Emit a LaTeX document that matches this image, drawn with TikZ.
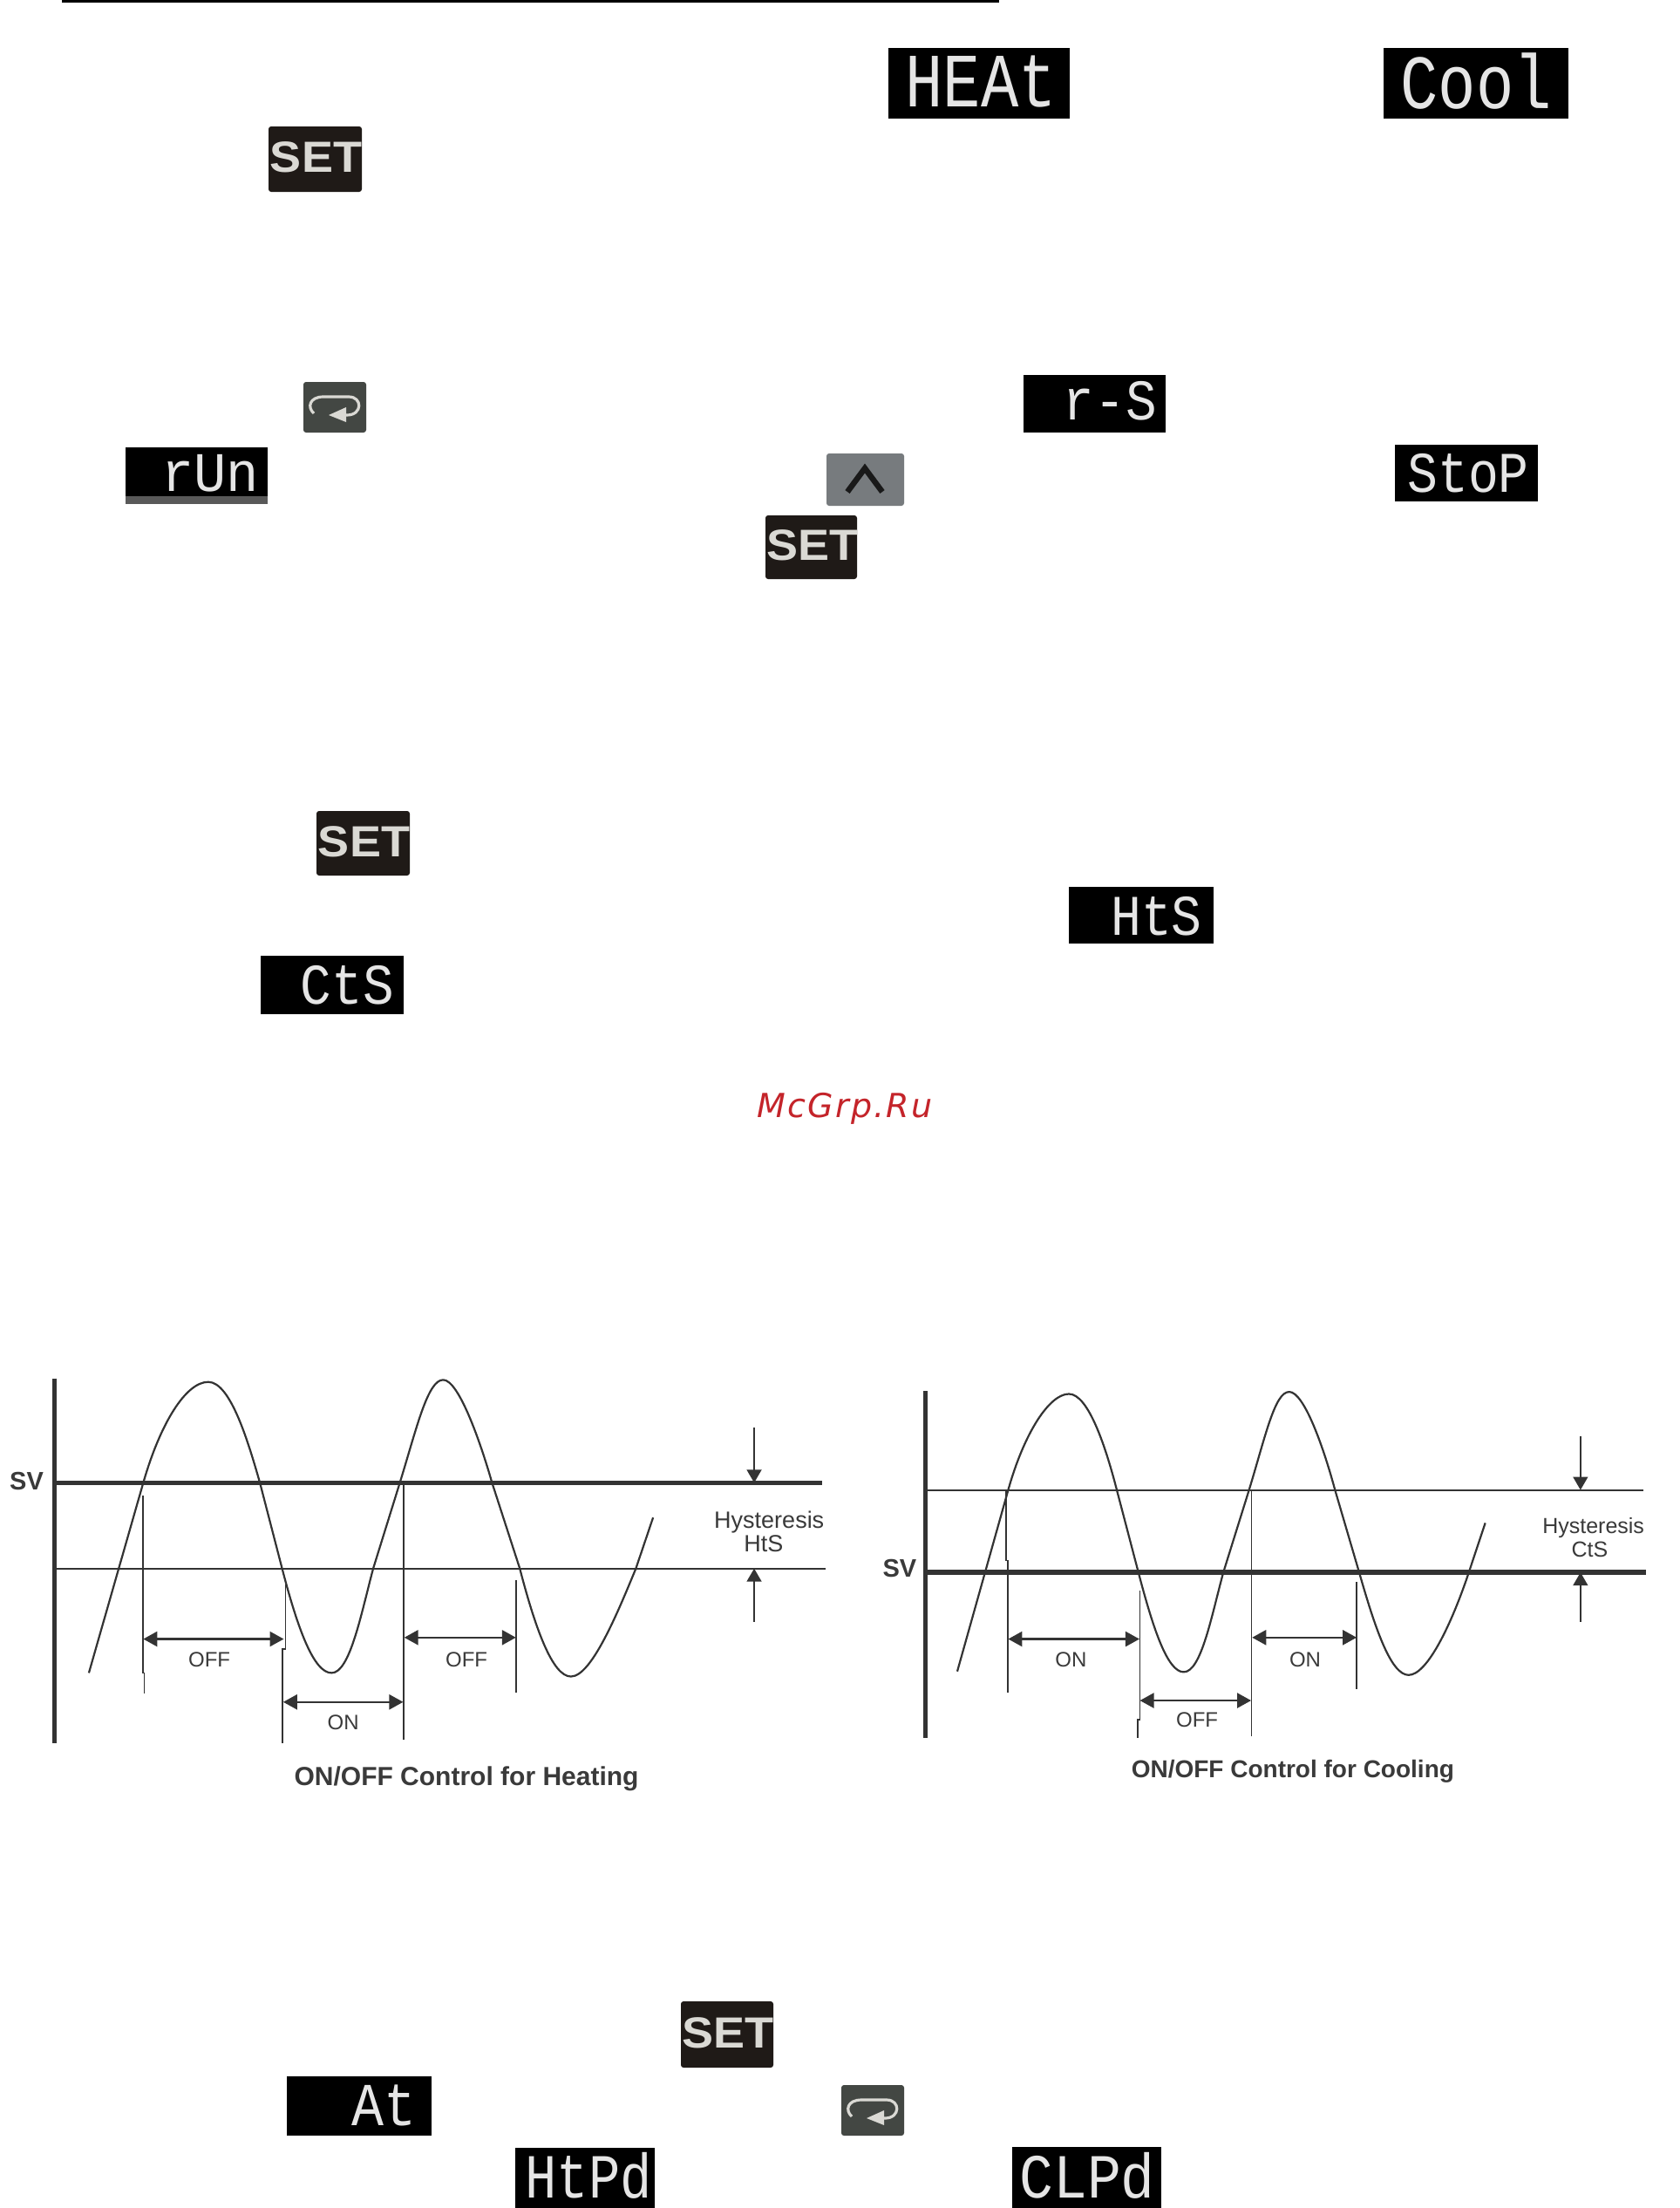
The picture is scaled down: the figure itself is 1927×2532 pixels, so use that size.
\documentclass[tikz,border=0pt]{standalone}
\usepackage{fontspec}
\usepackage{graphicx}
\usetikzlibrary{arrows.meta}
\setmainfont{Liberation Sans}
\newfontfamily\ledfont{Liberation Mono}
\newfontfamily\wmfont[LetterSpace=6]{DejaVu Sans}
\definecolor{setfill}{HTML}{1F1A17}
\definecolor{loopfill}{HTML}{434743}
\definecolor{upfill}{HTML}{777B7E}
\definecolor{keyink}{HTML}{DAD9D4}
\definecolor{wavecol}{HTML}{333333}
\definecolor{wmred}{HTML}{C4242A}
\definecolor{labelcol}{HTML}{3A3A3A}
\tikzset{
  key/.style={rounded corners=3pt},
  ledtxt/.style={text=white!90!black,inner sep=0pt,anchor=base east},
  wave/.style={draw=wavecol,line width=2.2pt},
  tick/.style={draw=wavecol,line width=1.6pt},
  span/.style={draw=wavecol,line width=2.4pt,{Triangle[length=16pt,width=17pt]}-{Triangle[length=16pt,width=17pt]}},
  hyst/.style={draw=wavecol,line width=1.6pt,-{Triangle[length=15pt,width=17pt]}},
  axisline/.style={draw=wavecol,line width=5pt},
  svline/.style={draw=wavecol,line width=5.5pt},
  thinline/.style={draw=wavecol,line width=2pt},
  lab/.style={inner sep=0pt,text=labelcol,font=\fontsize{24}{24}\selectfont},
  hlab/.style={inner sep=0pt,text=labelcol,font=\fontsize{25}{25}\selectfont},
  hlabb/.style={inner sep=0pt,text=labelcol,font=\fontsize{27}{27}\selectfont},
  boldlab/.style={inner sep=0pt,text=labelcol,font=\bfseries\fontsize{29}{29}\selectfont},
}
\newcommand\ledpanel[4]{\fill[black] (#1,#2) rectangle (#3,#4);}
% name, right x, baseline y, size, x scale, text
\newcommand\ledtext[6]{\node[ledtxt,font=\ledfont\fontsize{#4}{#4}\selectfont] (#1) at (#2,#3) {\scalebox{#5}[1]{#6}};}
\newcommand\setkey[5]{%
  \fill[setfill,key] (#2,#3) rectangle (#4,#5);
  \node[inner sep=0pt,text=keyink,font=\bfseries\fontsize{50}{50}\selectfont] (#1) at ({(#2+#4)/2+1},{(#3+#5)/2-2}) {\scalebox{1.08}[1]{SET}};}
\newcommand\loopkey[3]{% x0,y0 of a 72x58 key; #3 = name
  \fill[loopfill,key] (#1,#2) rectangle ++(72,58);
  \coordinate (#3) at ({#1+36},{#2+29});
  \draw[keyink,line width=3.2pt] ([shift={(-24,7)}]#3) .. controls ([shift={(-32,0)}]#3) and ([shift={(-29,-12)}]#3) .. ([shift={(-13,-12)}]#3)
     -- ([shift={(16,-12)}]#3) .. controls ([shift={(32,-12)}]#3) and ([shift={(32,9)}]#3) .. ([shift={(14,9)}]#3) -- ([shift={(4,9)}]#3);
  \fill[keyink] ([shift={(-7,9)}]#3) -- ([shift={(13,0)}]#3) -- ([shift={(13,17)}]#3) -- cycle;}
\begin{document}
\begin{tikzpicture}[x=1pt,y=-1pt]
\useasboundingbox (0,0) rectangle (1927,2532);
\fill[white] (0,0) rectangle (1927,2532);
% top rule
\fill[black] (71,0) rectangle (1146,3);

% first group
\ledpanel{1019}{55}{1227}{136}
\ledtext{heat}{1212}{122}{88}{.82}{HEAt}
\ledpanel{1587}{55}{1799}{136}
\ledtext{cool}{1780}{124}{88}{.82}{Cool}
\setkey{setA}{308}{145}{415}{220}

% second group
\loopkey{348}{438}{loopA}
\ledpanel{1174}{430}{1337}{496}
\ledtext{rs}{1327}{481}{66}{.9}{r-S}
\ledpanel{144}{513}{307}{578}
\fill[black!65] (144,569) rectangle (307,578);
\ledtext{run}{297}{563}{64}{.97}{rUn}
\fill[upfill,key] (948,520) rectangle (1037,580);
\coordinate (upc) at (992,550);
\draw[black!90,line width=6.5pt] ([shift={(-20,14)}]upc) -- ([shift={(0,-13)}]upc) -- ([shift={(20,14)}]upc);
\ledpanel{1600}{510}{1764}{575}
\ledtext{stop}{1754}{564}{66}{.88}{StoP}
\setkey{setB}{878}{591}{983}{664}

% third group
\setkey{setC}{363}{930}{470}{1004}
\ledpanel{1226}{1017}{1392}{1082}
\ledtext{hts}{1379}{1072}{66}{.88}{HtS}
\ledpanel{299}{1096}{463}{1163}
\ledtext{cts}{452}{1151}{66}{.9}{CtS}

% watermark
\node[inner sep=0pt,text=wmred,font=\wmfont\itshape\fontsize{38}{38}\selectfont] (wm) at (969,1271) {McGrp.Ru};

% heating chart (coordinates in crop units)
\begin{scope}[shift={(0,1540)},x=0.637pt,y=-0.344pt]
  \draw[axisline] (98,118) -- (98,1335);
  \draw[svline] (100,466) -- (1480,466);
  \draw[thinline] (100,752) -- (1486,752);
  \draw[wave,line join=round] (160,1100) -- (258,466) .. controls (289,266) and (335,130) .. (375,130)
     .. controls (415,130) and (447,330) .. (468,466) -- (508,752)
     .. controls (536,952) and (565,1100) .. (597,1100)
     .. controls (630,1100) and (650,905) .. (672,752) -- (720,466)
     .. controls (750,286) and (770,123) .. (798,123)
     .. controls (826,123) and (865,330) .. (886,466) -- (936,752)
     .. controls (964,952) and (995,1112) .. (1028,1112)
     .. controls (1065,1112) and (1112,900) .. (1145,752) -- (1176,582);
  \draw[tick] (257,510) -- (257,1100) -- (260,1100) -- (260,1170);
  \draw[tick] (514,805) -- (514,1020) -- (509,1020) -- (509,1335);
  \draw[tick] (727,466) -- (727,1322);
  \draw[tick] (929,790) -- (929,1165);
  \coordinate (ha) at (258,987); \coordinate (hb) at (511,987);
  \coordinate (hc) at (510,1197); \coordinate (hd) at (726,1197);
  \coordinate (he) at (728,982); \coordinate (hf) at (929,982);
  \draw[span] (ha) -- (hb);
  \draw[span] (hc) -- (hd);
  \draw[span] (he) -- (hf);
  \coordinate (hg) at (1358,283); \coordinate (hh) at (1358,466);
  \coordinate (hi) at (1358,930); \coordinate (hj) at (1358,752);
  \draw[hyst] (hg) -- (hh);
  \draw[hyst] (hi) -- (hj);
  \node[boldlab] (hsv) at (48,460) {SV};
  \node[hlabb] (hhy) at (1385,597) {Hysteresis};
  \node[hlabb] (hhs) at (1375,668) {HtS};
  \node[lab] (hoff1) at (377,1055) {OFF};
  \node[lab] (hon) at (618,1266) {ON};
  \node[lab] (hoff2) at (840,1055) {OFF};
  \node[inner sep=0pt,text=labelcol,font=\bfseries\fontsize{30}{30}\selectfont] (htitle) at (840,1453) {ON/OFF Control for Heating};
\end{scope}

% cooling chart (coordinates in crop units)
\begin{scope}[shift={(1000,1540)},x=0.5903pt,y=-0.344pt]
  \draw[axisline] (104,160) -- (104,1317);
  \draw[thinline] (105,490) -- (1500,490);
  \draw[svline] (105,765) -- (1505,765);
  \draw[wave,line join=round] (166,1095) -- (265,490) .. controls (296,300) and (345,170) .. (383,170)
     .. controls (421,170) and (455,350) .. (476,490) -- (518,765)
     .. controls (546,948) and (574,1097) .. (606,1097)
     .. controls (640,1097) and (660,910) .. (683,765) -- (733,490)
     .. controls (765,310) and (783,163) .. (811,163)
     .. controls (840,163) and (878,350) .. (900,490) -- (947,765)
     .. controls (977,945) and (1008,1107) .. (1043,1107)
     .. controls (1080,1107) and (1128,930) .. (1160,765) -- (1192,600);
  \draw[tick] (261,490) -- (261,725) -- (264,725) -- (264,1165);
  \draw[tick] (521,825) -- (521,1255) -- (517,1255) -- (517,1317);
  \draw[tick] (738,490) -- (738,1310);
  \draw[tick] (942,797) -- (942,1155);
  \coordinate (ca) at (265,987); \coordinate (cb) at (520,987);
  \coordinate (cc) at (521,1192); \coordinate (cd) at (737,1192);
  \coordinate (ce) at (739,982); \coordinate (cf) at (942,982);
  \draw[span] (ca) -- (cb);
  \draw[span] (cc) -- (cd);
  \draw[span] (ce) -- (cf);
  \coordinate (cg) at (1377,312); \coordinate (ch) at (1377,490);
  \coordinate (ci) at (1377,930); \coordinate (cj) at (1377,765);
  \draw[hyst] (cg) -- (ch);
  \draw[hyst] (ci) -- (cj);
  \node[boldlab] (csv) at (54,752) {SV};
  \node[hlab] (chy) at (1402,617) {Hysteresis};
  \node[hlab] (chs) at (1395,690) {CtS};
  \node[lab] (con1) at (387,1056) {ON};
  \node[lab] (coff) at (632,1255) {OFF};
  \node[lab] (con2) at (842,1056) {ON};
  \node[inner sep=0pt,text=labelcol,font=\bfseries\fontsize{28}{28}\selectfont] (ctitle) at (818,1428) {ON/OFF Control for Cooling};
\end{scope}

% fourth group
\setkey{setD}{781}{2295}{887}{2371}
\ledpanel{329}{2381}{495}{2449}
\ledtext{at}{478}{2437}{70}{.88}{At}
\loopkey{965}{2391}{loopB}
\ledpanel{591}{2463}{751}{2532}
\ledtext{htpd}{748}{2520}{72}{.84}{HtPd}
\ledpanel{1161}{2462}{1332}{2532}
\ledtext{clpd}{1325}{2520}{72}{.9}{CLPd}
\end{tikzpicture}
\end{document}
